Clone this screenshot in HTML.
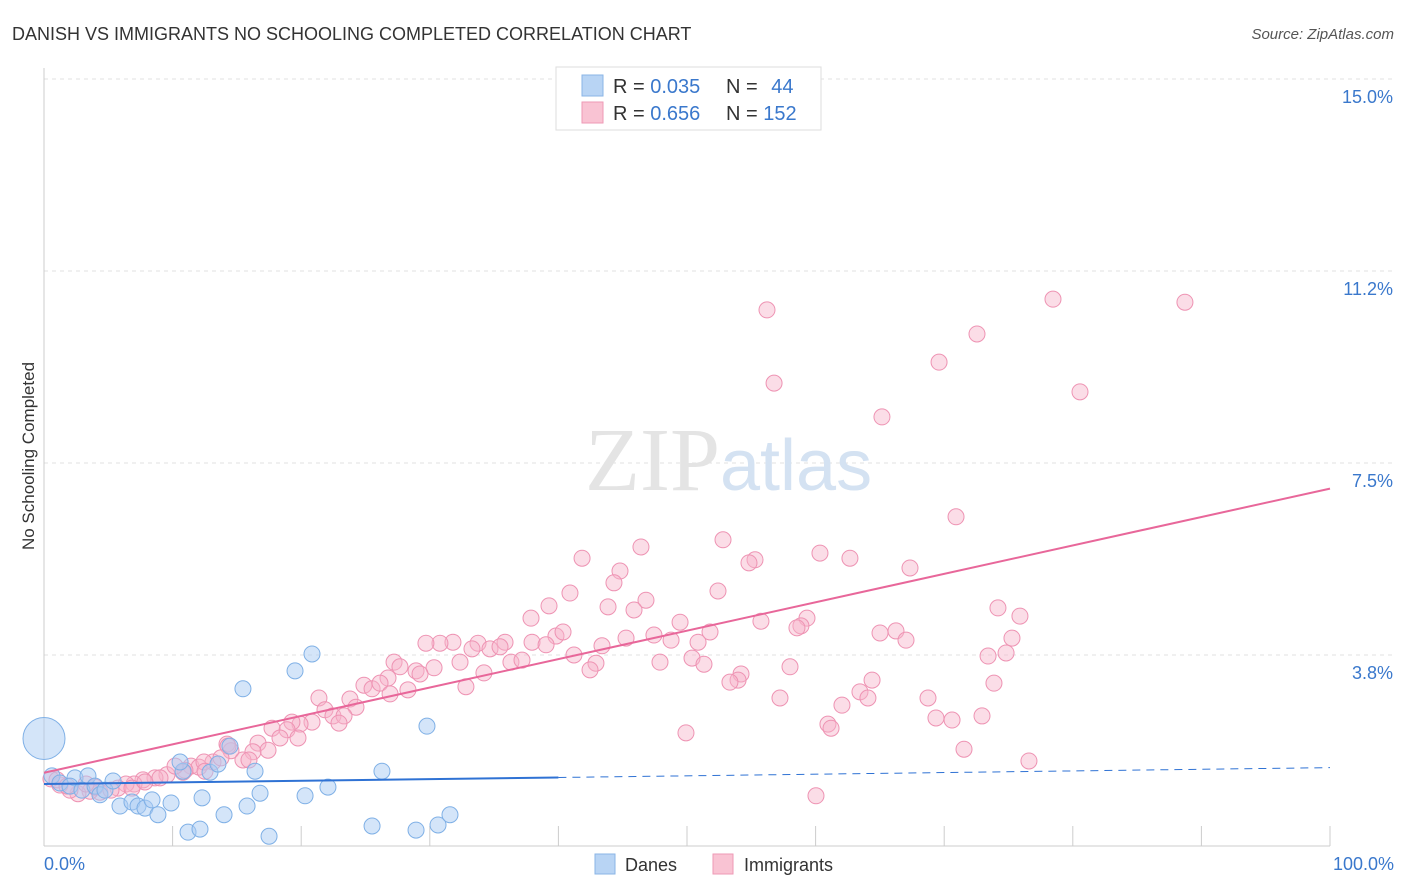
<!DOCTYPE html>
<html><head><meta charset="utf-8"><style>
body{margin:0;background:#fff;font-family:"Liberation Sans",sans-serif;}
svg{display:block}
</style></head><body>
<svg id="chart" width="1406" height="892">
<text x="12" y="40" font-size="18" fill="#333">DANISH VS IMMIGRANTS NO SCHOOLING COMPLETED CORRELATION CHART</text>
<text x="1394" y="39" font-size="15" fill="#555" font-style="italic" text-anchor="end">Source: ZipAtlas.com</text>
<text x="34" y="456" font-size="17" fill="#333" text-anchor="middle" transform="rotate(-90 34 456)">No Schooling Completed</text>
<g id="grid"></g>
<text x="720" y="490" font-size="90" fill="#e4e4e4" text-anchor="end" font-family="Liberation Serif,serif">ZIP</text>
<text x="720" y="490" font-size="72" fill="#d4e2f2">atlas</text>
<g id="points"></g>
<g id="trends"></g>
<g>
<rect x="556" y="67" width="265" height="63" fill="#fff" stroke="#ddd"/>
<rect x="582" y="75" width="21" height="21" fill="#b8d4f4" stroke="#8ab4e6"/>
<rect x="582" y="102" width="21" height="21" fill="#f9c3d3" stroke="#ee9ab6"/>
<text x="613" y="93" font-size="20" fill="#333">R = <tspan fill="#3a78cc">0.035</tspan></text>
<text x="726" y="93" font-size="20" fill="#333">N = <tspan fill="#3a78cc" dx="8">44</tspan></text>
<text x="613" y="120" font-size="20" fill="#333">R = <tspan fill="#3a78cc">0.656</tspan></text>
<text x="726" y="120" font-size="20" fill="#333">N = <tspan fill="#3a78cc">152</tspan></text>
</g>
<g>
<rect x="595" y="854" width="20" height="20" fill="#b8d4f4" stroke="#8ab4e6"/>
<text x="625" y="871" font-size="18" fill="#333">Danes</text>
<rect x="713" y="854" width="20" height="20" fill="#f9c3d3" stroke="#ee9ab6"/>
<text x="744" y="871" font-size="18" fill="#333">Immigrants</text>
</g>
</svg>
<script>
const yTicks=[3.75,7.5,11.25,15];
const yTickLabels=["3.8%","7.5%","11.2%","15.0%"];
const xTicks=[0,10,20,30,40,50,60,70,80,90,100];
const xEndLabels=["0.0%","100.0%"];
const pinkPx=[[767,310],[1053,299],[1185,302],[977,334],[939,362],[774,383],[1080,392],[882,417],[956,517],[723,540],[820,553],[850,558],[755,560],[749,563],[582,558],[641,547],[620,571],[614,583],[910,568],[570,593],[549,606],[531,618],[718,591],[646,600],[608,607],[634,610],[680,622],[807,618],[801,626],[797,628],[998,608],[1020,616],[761,621],[556,636],[563,632],[710,632],[698,642],[671,640],[880,633],[896,631],[906,640],[1012,638],[654,635],[626,638],[602,646],[505,642],[532,642],[546,645],[478,643],[453,642],[440,643],[426,643],[394,662],[400,667],[416,671],[434,668],[460,662],[472,649],[490,649],[500,647],[511,662],[522,660],[574,655],[596,663],[590,670],[660,662],[692,658],[704,664],[790,667],[1006,653],[988,656],[872,680],[741,674],[738,680],[730,682],[994,683],[484,673],[420,674],[388,678],[364,685],[372,689],[380,683],[408,690],[390,694],[350,699],[466,687],[319,698],[325,710],[356,707],[333,716],[344,716],[339,723],[312,722],[300,724],[292,722],[287,730],[272,728],[298,738],[280,738],[258,743],[268,750],[253,752],[227,744],[231,751],[243,760],[249,760],[213,762],[191,766],[199,767],[204,762],[185,770],[167,775],[155,778],[143,780],[160,778],[134,784],[126,784],[118,788],[100,792],[90,791],[78,794],[70,790],[60,785],[51,779],[828,724],[831,728],[686,733],[780,698],[842,705],[860,692],[868,698],[928,698],[936,718],[952,720],[982,716],[964,749],[1029,761],[816,796],[228,746],[205,771],[183,772],[221,758],[111,790],[132,788],[95,787],[145,782],[175,766],[86,784],[57,780],[67,786]];
const bluePx=[[52,776],[60,783],[75,778],[70,786],[88,776],[82,790],[95,786],[100,795],[105,790],[113,781],[120,806],[132,802],[138,806],[145,808],[152,800],[158,815],[171,803],[183,771],[180,762],[188,832],[200,829],[202,798],[210,772],[218,764],[224,815],[230,746],[247,806],[255,771],[260,793],[269,836],[243,689],[295,671],[312,654],[305,796],[328,787],[372,826],[382,771],[416,830],[427,726],[438,825],[450,815]];
// data values (x %, y %) derived from the picture
const immX=pinkPx.map(p=>+((p[0]-44)/12.86).toFixed(2));
const immY=pinkPx.map(p=>+((847-p[1])/51.2).toFixed(2));
const danX=bluePx.map(p=>+((p[0]-44)/12.86).toFixed(2));
const danY=bluePx.map(p=>+((847-p[1])/51.2).toFixed(2));
const bigDaneX=[0], bigDaneY=[2.12];
const danTrend=[1.23,1.55]; // y at x=0 and x=100
const immTrend=[1.45,7.0];

const X=v=>44+v*12.86, Y=v=>847-v*51.2;
const NS="http://www.w3.org/2000/svg";
function mk(t,a,parent){const e=document.createElementNS(NS,t);for(const k in a)e.setAttribute(k,a[k]);parent.appendChild(e);return e;}
const grid=document.getElementById('grid');
yTicks.forEach((v,i)=>{
 const l=mk('line',{x1:44,x2:1392,y1:Y(v),y2:Y(v),stroke:'#e2e2e2','stroke-dasharray':'4,4'},grid);
 
 
 const t=mk('text',{x:1393,y:Y(v)+24,'font-size':18,fill:'#3a78cc','text-anchor':'end'},grid);
 t.textContent=yTickLabels[i];
 
 
});
const ax=mk('line',{x1:44,x2:44,y1:68,y2:846,stroke:'#ccc'},grid);


const bx=mk('line',{x1:44,x2:1330,y1:846,y2:846,stroke:'#ccc'},grid);


xTicks.forEach(v=>{
 const l=mk('line',{x1:X(v),x2:X(v),y1:826,y2:846,stroke:'#ccc'},grid);
 
 
});
[[0,'start',44],[100,'end',1394]].forEach((a,i)=>{
 const t=mk('text',{x:a[2],y:870,'font-size':18,fill:'#3a78cc','text-anchor':a[1]},grid);
 t.textContent=xEndLabels[i];
 
 
});
const pts=document.getElementById('points');
immX.forEach((x,i)=>{
 const c=mk('circle',{cx:X(x),cy:Y(immY[i]),r:8,fill:'rgba(247,180,202,0.45)',stroke:'#ee93b3','stroke-width':1},pts);
 
 
});
danX.forEach((x,i)=>{
 const c=mk('circle',{cx:X(x),cy:Y(danY[i]),r:8,fill:'rgba(170,204,243,0.5)',stroke:'#7fb0e6','stroke-width':1},pts);
 
 
});
bigDaneX.forEach((x,i)=>{
 const c=mk('circle',{cx:X(x),cy:Y(bigDaneY[i]),r:21,fill:'rgba(170,204,243,0.5)',stroke:'#7fb0e6','stroke-width':1},pts);
 
 
});
const tr=document.getElementById('trends');
const dAt=v=>danTrend[0]+(danTrend[1]-danTrend[0])*v/100;
let l1=mk('line',{x1:X(0),y1:Y(dAt(0)),x2:X(40),y2:Y(dAt(40)),stroke:'#2f72d4','stroke-width':2},tr);


let l2=mk('line',{x1:X(40),y1:Y(dAt(40)),x2:X(100),y2:Y(dAt(100)),stroke:'#2f72d4','stroke-width':1,'stroke-dasharray':'8,6'},tr);


let l3=mk('line',{x1:X(0),y1:Y(immTrend[0]),x2:X(100),y2:Y(immTrend[1]),stroke:'#e8679a','stroke-width':2},tr);


</script>
</body></html>
